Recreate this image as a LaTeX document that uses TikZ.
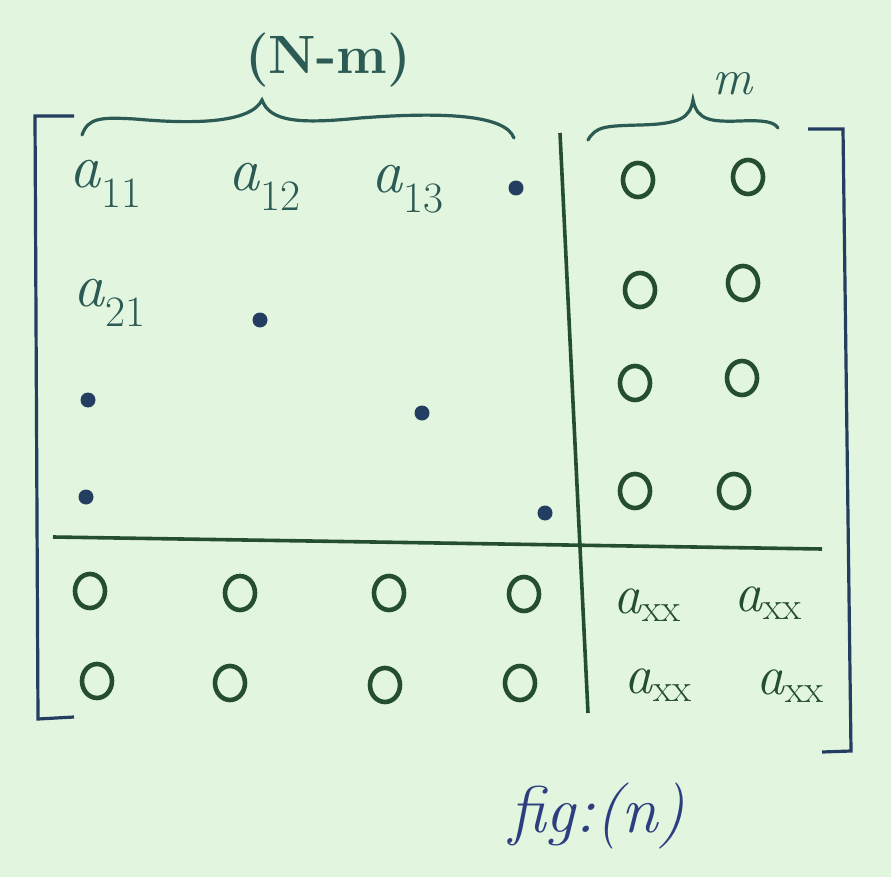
\documentclass[tikz,border=0pt]{standalone}
\usetikzlibrary{shapes.geometric}
\definecolor{paper}{RGB}{226,245,222}
\definecolor{inkg}{RGB}{36,78,46}
\definecolor{inkb}{RGB}{36,62,98}
\definecolor{inkt}{RGB}{44,90,84}
\definecolor{inkf}{RGB}{44,62,128}
\newcommand{\entrytxt}[1]{\textit{a}\textsubscript{#1}}

\begin{document}
\begin{tikzpicture}[x=1pt,y=-1pt,
    zero/.style={ellipse, draw=inkg, line width=4.6pt, minimum width=30pt, minimum height=34pt, inner sep=0pt},
    dot/.style={circle, fill=inkb, minimum size=15pt, inner sep=0pt},
    entry/.style={text=inkt, font=\fontsize{62}{62}\selectfont, inner sep=0pt},
    axx/.style={text=inkg, font=\fontsize{56}{56}\selectfont, inner sep=0pt},
    bracket/.style={draw=inkb, line width=3.2pt},
    divider/.style={draw=inkg, line width=3.6pt},
    brc/.style={draw=inkt, line width=3.2pt, line cap=round}
]
    % paper
    \fill[paper] (0,0) rectangle (891,877);
    \useasboundingbox (0,0) rectangle (891,877);

    % Matrix brackets
    \draw[bracket] (74,116) -- (35,116) -- (38,719) -- (74,717);
    \draw[bracket] (808,129) -- (843,129) -- (851,751) -- (822,752);

    % Block dividers
    \coordinate (vtop) at (560,133);
    \coordinate (vbot) at (588,713);
    \coordinate (hl) at (53,537);
    \coordinate (hr) at (822,549);
    \draw[divider] (vtop) -- (vbot);
    \draw[divider] (hl) -- (hr);

    % Braces and their labels
    \node[text=inkt, font=\fontsize{54}{54}\selectfont\bfseries] (nm) at (328,60) {(N-m)};
    \node[text=inkt, font=\fontsize{50}{50}\selectfont\itshape] (mm) at (732,84) {m};
    \draw[brc] (82,135) .. controls (88,118) and (100,117) .. (135,119)
        .. controls (190,124) and (250,124) .. (262,100)
        .. controls (270,122) and (300,124) .. (360,118)
        .. controls (440,112) and (505,114) .. (514,138);
    \draw[brc] (588,140) .. controls (596,126) and (606,126) .. (640,125)
        .. controls (680,124) and (690,118) .. (693,100)
        .. controls (697,120) and (710,122) .. (740,121)
        .. controls (765,120) and (774,122) .. (778,128);

    % Top-left block
    \node[entry] (a11) at (106,184) {\entrytxt{11}};
    \node[entry] (a12) at (265,187) {\entrytxt{12}};
    \node[entry] (a13) at (408,189) {\entrytxt{13}};
    \node[entry] (a21) at (110,303) {\entrytxt{21}};
    \node[dot] (d14) at (516,188) {};
    \node[dot] (d22) at (260,320) {};
    \node[dot] (d31) at (88,400) {};
    \node[dot] (d33) at (422,413) {};
    \node[dot] (d41) at (86,497) {};
    \node[dot] (d44) at (545,513) {};

    % Top-right block of zeros
    \foreach \i/\x/\y in {1/638/180, 2/640/290, 3/635/383, 4/635/491}
        \node[zero] (zl\i) at (\x,\y) {};
    \foreach \i/\x/\y in {1/748/177, 2/743/283, 3/742/378, 4/734/491}
        \node[zero] (zr\i) at (\x,\y) {};

    % Bottom-left block of zeros
    \foreach \j/\x/\y in {1/90/591, 2/240/593, 3/389/593, 4/524/594}
        \node[zero] (zb\j) at (\x,\y) {};
    \foreach \j/\x/\y in {1/97/681, 2/230/683, 3/385/685, 4/520/683}
        \node[zero] (zc\j) at (\x,\y) {};

    % Bottom-right block
    \node[axx] (x11) at (647,605) {\entrytxt{xx}};
    \node[axx] (x12) at (768,603) {\entrytxt{xx}};
    \node[axx] (x21) at (658,685) {\entrytxt{xx}};
    \node[axx] (x22) at (790,686) {\entrytxt{xx}};

    % Caption
    \node[text=inkf, font=\fontsize{66}{66}\selectfont\itshape] (cap) at (597,816) {fig:(n)};
\end{tikzpicture}
\end{document}
